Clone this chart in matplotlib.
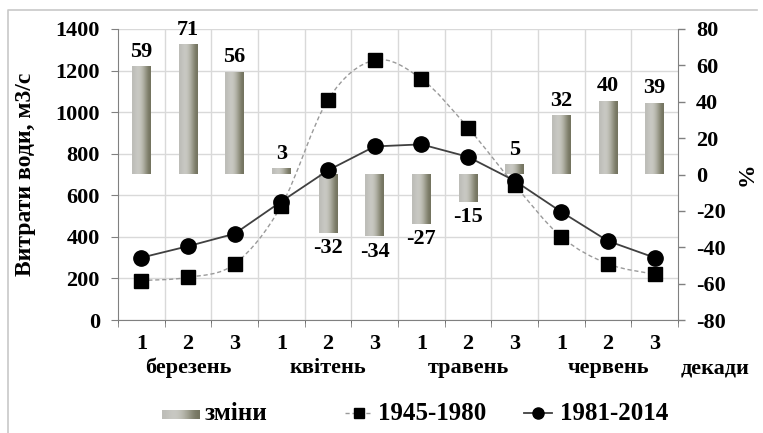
import numpy as np
import matplotlib
matplotlib.use("Agg")
import matplotlib.pyplot as plt
from matplotlib.path import Path
from matplotlib.patches import PathPatch
from matplotlib.lines import Line2D

# ---- data ----
decades = ["1", "2", "3", "1", "2", "3", "1", "2", "3", "1", "2", "3"]
months = ["березень", "квітень", "травень", "червень"]
flow_1945_1980 = [190, 205, 270, 550, 1060, 1250, 1160, 925, 650, 400, 270, 220]
flow_1981_2014 = [300, 355, 415, 570, 720, 835, 845, 785, 670, 520, 380, 300]
changes = [59, 71, 56, 3, -32, -34, -27, -15, 5, 32, 40, 39]

plt.rcParams['font.family'] = ['Liberation Serif', 'DejaVu Serif']
plt.rcParams['font.weight'] = 'bold'
plt.rcParams['axes.unicode_minus'] = False

W, H = 763, 433
fig = plt.figure(figsize=(W / 100, H / 100), dpi=100)
fig.patch.set_facecolor('white')

# outer frame (left and top edges)
fig.lines.append(Line2D([8 / W, 8 / W, 757 / W], [0, 1 - 10 / H, 1 - 10 / H],
                        transform=fig.transFigure, color='#c8c8c8', lw=1.2))

pos = [118 / W, 1 - 320 / H, (678 - 118) / W, (320 - 29) / H]
n = len(decades)
x = np.arange(n)
xlim = (-0.5, n - 0.5)

# grid axes (bottom)
axg = fig.add_axes(pos, zorder=0)
axg.set_xlim(*xlim)
axg.set_ylim(0, 1400)
axg.set_xticks(np.arange(0.5, n - 0.5, 1))
axg.set_yticks(np.arange(0, 1401, 200))
axg.grid(True, color='#d9d9d9', lw=1.0)
axg.tick_params(length=0, labelbottom=False, labelleft=False)
for s in axg.spines.values():
    s.set_visible(False)

# main axes for lines (top)
ax = fig.add_axes(pos, zorder=2)
ax.patch.set_visible(False)
# bars axes (middle)
ax2 = fig.add_axes(pos, zorder=1, sharex=ax)
ax2.patch.set_visible(False)

# ---- bars with gradient ----
bw = 0.40
bars = ax2.bar(x, changes, width=bw, color='none', edgecolor='none')
grad = np.array([[0.74, 0.74, 0.72], [0.80, 0.80, 0.78], [0.76, 0.76, 0.73],
                 [0.62, 0.62, 0.56], [0.45, 0.45, 0.37]])
gimg = grad[np.newaxis, :, :]
for b in bars:
    x0 = b.get_x()
    y0 = b.get_y()
    h = b.get_height()
    ax2.imshow(gimg, extent=(x0, x0 + b.get_width(), min(y0, y0 + h), max(y0, y0 + h)),
               aspect='auto', interpolation='bicubic', zorder=1)
ax2.set_xlim(*xlim)
ax2.set_ylim(-80, 80)
ax2.set_yticks(np.arange(-80, 81, 20))
ax2.yaxis.tick_right()
ax2.yaxis.set_label_position('right')
ax2.tick_params(axis='y', direction='out', length=5, width=1, color='#808080',
                labelsize=16, pad=8)
ax2.tick_params(axis='x', bottom=False, labelbottom=False)
for s in ['left', 'top', 'bottom']:
    ax2.spines[s].set_visible(False)
ax2.spines['right'].set_color('#808080')
ax2.set_ylabel('%', fontsize=17, fontweight='bold', labelpad=8)

for xi, v in zip(x, changes):
    if v >= 0:
        ax2.text(xi, v + 3, str(v), ha='center', va='bottom', fontsize=16, fontweight='bold')
    else:
        ax2.text(xi, v - 3, str(v), ha='center', va='top', fontsize=16, fontweight='bold')


# ---- smoothed dashed line (Bezier through data points) ----
def smooth_path(xs, ys):
    pts = np.column_stack([xs, ys]).astype(float)
    verts = [pts[0]]
    codes = [Path.MOVETO]
    m = len(pts)
    for i in range(m - 1):
        p0 = pts[i - 1] if i > 0 else pts[i]
        p1 = pts[i]
        p2 = pts[i + 1]
        p3 = pts[i + 2] if i + 2 < m else pts[i + 1]
        c1 = p1 + (p2 - p0) / 6.0
        c2 = p2 - (p3 - p1) / 6.0
        verts += [c1, c2, p2]
        codes += [Path.CURVE4] * 3
    return Path(verts, codes)


ax.add_patch(PathPatch(smooth_path(x, flow_1945_1980), fill=False,
                       edgecolor='#9a9a9a', lw=1.0, linestyle=(0, (3, 2)), zorder=2))
ax.plot(x, flow_1945_1980, linestyle='none', marker='s', markersize=10,
        color='black', zorder=4)
ax.plot(x, flow_1981_2014, linestyle='-', color='#404040', lw=1.3,
        marker='o', markersize=11, markerfacecolor='black', markeredgecolor='black',
        zorder=3)

ax.set_xlim(*xlim)
ax.set_ylim(0, 1400)
ax.set_yticks(np.arange(0, 1401, 200))
ax.set_xticks(x)
ax.set_xticklabels(decades)
ax.set_xticks(np.arange(-0.5, n, 1), minor=True)
ax.tick_params(axis='x', which='major', length=0, labelsize=16, pad=10)
ax.tick_params(axis='x', which='minor', length=5, direction='out', color='#808080')
ax.tick_params(axis='y', direction='out', length=5, color='#808080', labelsize=16, pad=8)
for s in ['right', 'top']:
    ax.spines[s].set_visible(False)
ax.spines['left'].set_color('#808080')
ax.spines['bottom'].set_color('#808080')
ax.set_ylabel('Витрати води, м3/с', fontsize=17, fontweight='bold', labelpad=14)

for i, mname in enumerate(months):
    ax.text(3 * i + 1, -0.165, mname, transform=ax.get_xaxis_transform(),
            ha='center', va='center', fontsize=16, fontweight='bold')
ax.text(12.29, -0.165, 'декади', transform=ax.get_xaxis_transform(),
        ha='center', va='center', fontsize=16, fontweight='bold', clip_on=False)

# ---- legend (manual) ----
ly = 1 - 413 / H
lax = fig.add_axes([162 / W, 1 - 419 / H, 38 / W, 9 / H])
lax.imshow(gimg, aspect='auto', interpolation='bicubic', extent=(0, 1, 0, 1))
lax.set_axis_off()
fig.text(205 / W, ly, 'зміни', fontsize=18, fontweight='bold', va='center', ha='left')

fig.lines.append(Line2D([345 / W, 372 / W], [ly, ly], transform=fig.transFigure,
                        color='#9a9a9a', lw=1.0, linestyle=(0, (3, 2))))
fig.lines.append(Line2D([358.5 / W], [ly], transform=fig.transFigure, marker='s',
                        markersize=7, color='black', linestyle='none'))
fig.text(378 / W, ly, '1945-1980', fontsize=18, fontweight='bold', va='center', ha='left')

fig.lines.append(Line2D([524 / W, 552 / W], [ly, ly], transform=fig.transFigure,
                        color='#404040', lw=1.3))
fig.lines.append(Line2D([538 / W], [ly], transform=fig.transFigure, marker='o',
                        markersize=8, color='black', linestyle='none'))
fig.text(560 / W, ly, '1981-2014', fontsize=18, fontweight='bold', va='center', ha='left')

fig.savefig('out.png', dpi=100)
